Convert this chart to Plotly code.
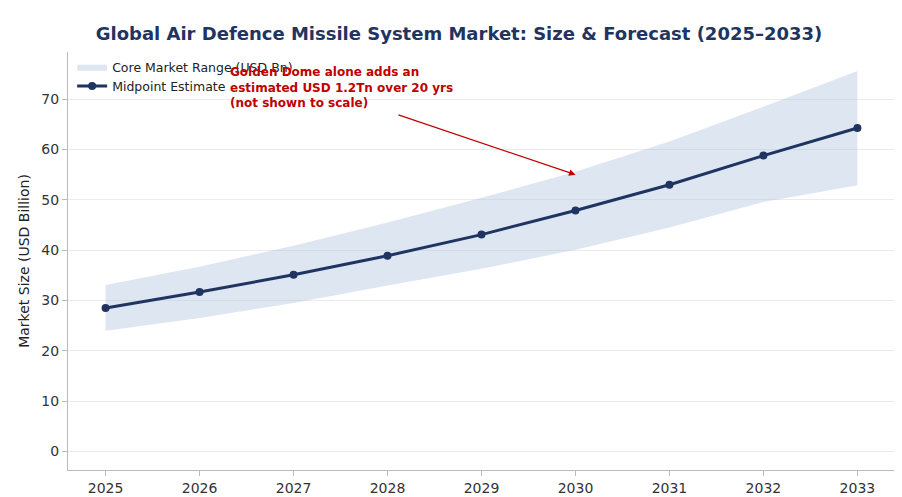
import plotly.graph_objects as go

years = [2025, 2026, 2027, 2028, 2029, 2030, 2031, 2032, 2033]
midpoint = [28.5, 31.7, 35.1, 38.9, 43.1, 47.9, 53.0, 58.8, 64.3]
upper = [33.1, 36.7, 40.9, 45.5, 50.4, 55.6, 61.6, 68.5, 75.6]
lower = [24.0, 26.5, 29.5, 33.0, 36.3, 40.1, 44.5, 49.6, 52.9]
y_ticks = [0, 10, 20, 30, 40, 50, 60, 70]

fig = go.Figure()
fig.add_trace(go.Scatter(x=years, y=lower, mode="lines", line=dict(width=0),
                         showlegend=False, hoverinfo="skip"))
fig.add_trace(go.Scatter(x=years, y=upper, mode="lines", line=dict(width=0),
                         fill="tonexty", fillcolor="rgba(176,196,222,0.42)",
                         name="Core Market Range (USD Bn)"))
fig.add_trace(go.Scatter(x=years, y=midpoint, mode="lines+markers",
                         line=dict(color="#1f3461", width=3),
                         marker=dict(size=8, color="#1f3461"),
                         name="Midpoint Estimate"))

fig.add_annotation(x=2030, y=55, ax=2028.1, ay=67, axref="x", ayref="y",
                   xref="x", yref="y", showarrow=True, arrowhead=2, arrowsize=1,
                   arrowwidth=1.3, arrowcolor="#c00000", text="")
fig.add_annotation(x=2026.3, y=72.3, xref="x", yref="y", showarrow=False,
                   xanchor="left", yanchor="middle", align="left",
                   text="<b>Golden Dome alone adds an<br>estimated USD 1.2Tn over 20 yrs<br>(not shown to scale)</b>",
                   font=dict(color="#c00000", size=12, family="DejaVu Sans"))

fig.update_layout(
    width=902, height=497,
    paper_bgcolor="white", plot_bgcolor="white",
    margin=dict(l=60, r=15, t=44, b=35),
    title=dict(text="<b>Global Air Defence Missile System Market: Size & Forecast (2025–2033)</b>",
               x=0.5, y=0.96, xanchor="center",
               font=dict(size=18, color="#1f3461", family="DejaVu Sans")),
    font=dict(family="DejaVu Sans", size=14, color="#333333"),
    legend=dict(x=0.005, y=1.0, xanchor="left", yanchor="top", traceorder="normal",
                itemwidth=30, tracegroupgap=0,
                bgcolor="rgba(255,255,255,0)", font=dict(size=12.5, color="#222")),
    xaxis=dict(range=[2024.6, 2033.4], tickvals=years, showgrid=False, automargin=False,
               showline=True, linecolor="#bbbbbb", ticks="outside", tickcolor="#bbbbbb"),
    yaxis=dict(range=[-3.7, 79.4], tickvals=y_ticks, showgrid=True, gridcolor="#ebebeb",
               zeroline=False, showline=True, linecolor="#bbbbbb", ticks="outside",
               tickcolor="#bbbbbb", automargin=False,
               title=dict(text="Market Size (USD Billion)", standoff=8,
                          font=dict(size=14, color="#222"))),
)
fig.write_html("out.html")
